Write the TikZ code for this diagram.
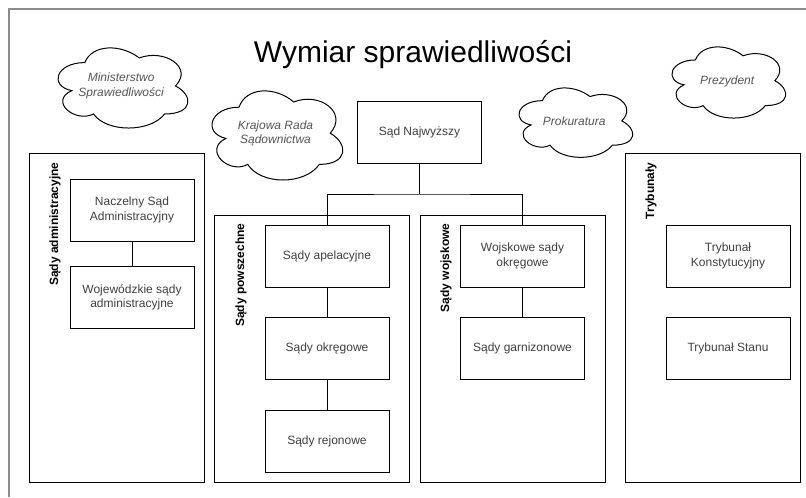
\documentclass[tikz,border=0pt]{standalone}
\usepackage{fontspec}
\setmainfont{Liberation Sans}
\definecolor{textgrey}{HTML}{404040}
\definecolor{cloudgrey}{HTML}{555555}
\definecolor{framegrey}{HTML}{8C8C8C}
\newcommand\mxcloudpath[4]{%
  \draw[black, line width=0.75pt, fill=white]
  ({#1+0.25*#3},{#2+0.25*#4}) .. controls ({#1+0.05*#3},{#2+0.25*#4}) and ({#1},{#2+0.5*#4}) .. ({#1+0.16*#3},{#2+0.55*#4})
  .. controls ({#1},{#2+0.66*#4}) and ({#1+0.18*#3},{#2+0.9*#4}) .. ({#1+0.31*#3},{#2+0.8*#4})
  .. controls ({#1+0.4*#3},{#2+#4}) and ({#1+0.7*#3},{#2+#4}) .. ({#1+0.8*#3},{#2+0.8*#4})
  .. controls ({#1+#3},{#2+0.8*#4}) and ({#1+#3},{#2+0.6*#4}) .. ({#1+0.875*#3},{#2+0.5*#4})
  .. controls ({#1+#3},{#2+0.3*#4}) and ({#1+0.8*#3},{#2+0.1*#4}) .. ({#1+0.625*#3},{#2+0.2*#4})
  .. controls ({#1+0.5*#3},{#2+0.05*#4}) and ({#1+0.3*#3},{#2+0.05*#4}) .. ({#1+0.25*#3},{#2+0.25*#4}) -- cycle;}
\begin{document}
\begin{tikzpicture}[x=0.75pt,y=-0.75pt, line width=0.75pt,
  box/.style={draw=black, fill=white, minimum width=93pt, minimum height=46.5pt, inner sep=2pt, align=center, text=textgrey, font=\fontsize{9}{10.7}\selectfont},
  cont/.style={draw=black, inner sep=0pt},
  lane/.style={rotate=90, anchor=east, inner sep=0pt, font=\bfseries\fontsize{9}{10.7}\selectfont},
  cloudtext/.style={align=center, text=cloudgrey, inner sep=0pt, font=\itshape\fontsize{9}{10.7}\selectfont},
  conn/.style={draw=black, line width=0.75pt}]
\useasboundingbox (0,0) rectangle (806,497);
\fill[white] (0,0) rectangle (806,497);
% outer frame (clipped by page)
\draw[framegrey, line width=1.1pt] (9,497) -- (9,9) -- (806,9);
% title
\node[anchor=base, inner sep=0pt, font=\fontsize{22.5}{26}\selectfont] (title) at (413,62) {Wymiar sprawiedliwości};
% clouds
\mxcloudpath{48.6}{39.2}{145}{93.5}
\node[cloudtext] (min) at (121.1,86) {Ministerstwo\\Sprawiedliwości};
\mxcloudpath{202.5}{81.2}{146}{104}
\node[cloudtext] (krs) at (275.5,133.5) {Krajowa Rada\\Sądownictwa};
\mxcloudpath{510.7}{80.4}{127}{81}
\node[cloudtext] (prok) at (574.2,121.5) {Prokuratura};
\mxcloudpath{663.7}{39.2}{127}{83}
\node[cloudtext] (prez) at (727.2,81) {Prezydent};
% containers
\node[cont, minimum width=131.25pt, minimum height=246.75pt] (adm) at (116.5,317.5) {};
\node[cont, minimum width=146.25pt, minimum height=200.25pt] (pow) at (311.5,348.5) {};
\node[cont, minimum width=138.75pt, minimum height=200.25pt] (woj) at (512.5,348.5) {};
\node[cont, minimum width=131.25pt, minimum height=246.75pt] (tryb) at (712.5,317.5) {};
\node[lane] (admlbl) at (55,162) {Sądy administracyjne};
\node[lane] (powlbl) at (241,223) {Sądy powszechne};
\node[lane] (wojlbl) at (446,223) {Sądy wojskowe};
\node[lane] (tryblbl) at (651,162) {Trybunały};
% boxes
\node[box] (snw) at (419.5,132.5) {Sąd Najwyższy};
\node[box] (nsa) at (132,210) {Naczelny Sąd\\Administracyjny};
\node[box] (wsa) at (132,297) {Wojewódzkie sądy\\administracyjne};
\node[box] (apel) at (327,256) {Sądy apelacyjne};
\node[box] (okr) at (327,348.5) {Sądy okręgowe};
\node[box] (rej) at (327,441) {Sądy rejonowe};
\node[box] (wso) at (522.5,256) {Wojskowe sądy\\okręgowe};
\node[box] (gar) at (522.5,348.5) {Sądy garnizonowe};
\node[box] (tk) at (728,256) {Trybunał\\Konstytucyjny};
\node[box] (ts) at (728,348.5) {Trybunał Stanu};
% connectors
\coordinate (junc) at (419.5,194);
\draw[conn] (snw.south) -- (junc);
\draw[conn] (apel.north) |- (junc) -| (wso.north);
\draw[conn] (nsa) -- (wsa);
\draw[conn] (apel) -- (okr);
\draw[conn] (okr) -- (rej);
\draw[conn] (wso) -- (gar);
\end{tikzpicture}
\end{document}
